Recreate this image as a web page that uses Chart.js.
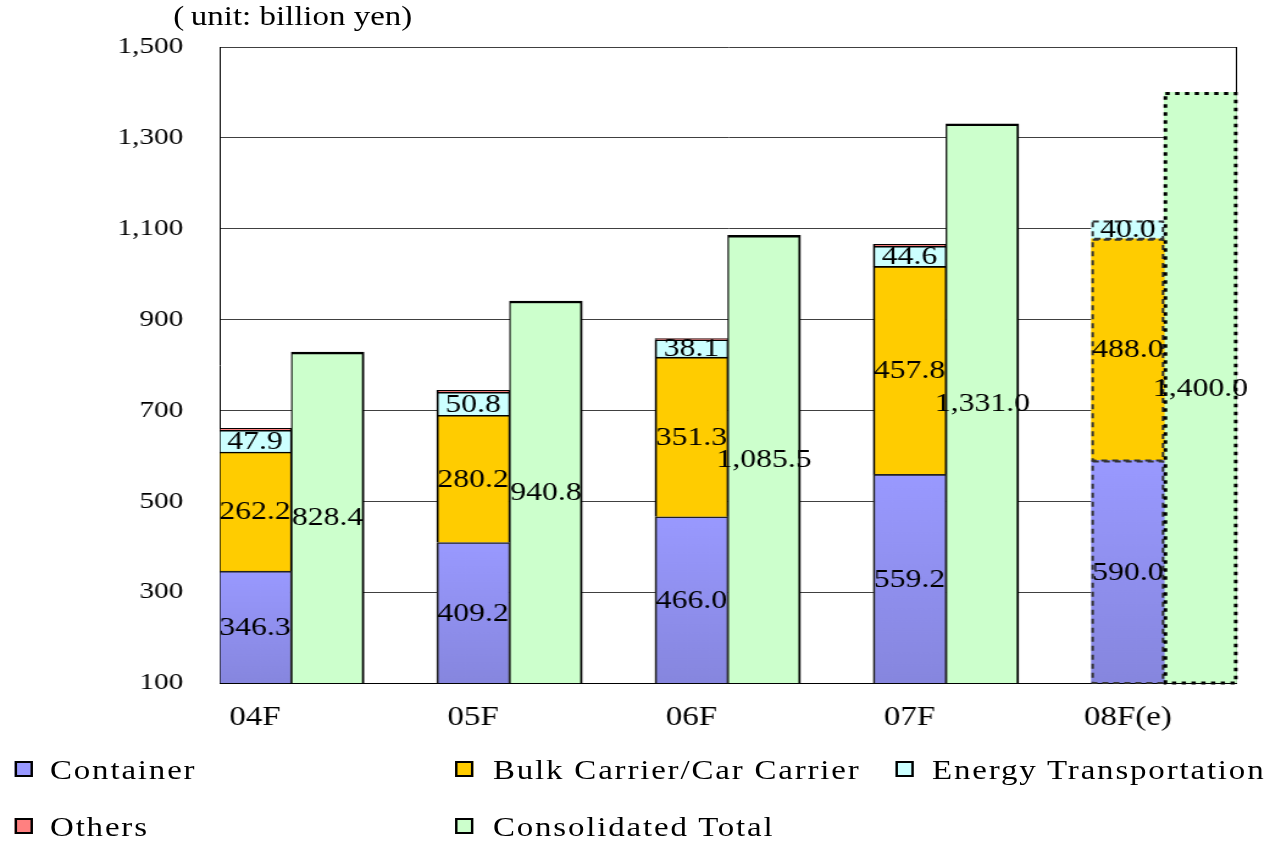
<!DOCTYPE html>
<html>
<head>
<meta charset="utf-8">
<script src="https://cdn.jsdelivr.net/npm/chart.js@4.4.1/dist/chart.umd.min.js"></script>
<style>
  html, body { margin: 0; padding: 0; background: #fff; }
  body { width: 1276px; height: 843px; overflow: hidden; position: relative; }
  /* the original export is stretched sideways, so the whole stage is too */
  #stage { position: absolute; left: 0; top: 0; width: 1046px; height: 843px;
           transform: scaleX(1.22); transform-origin: 0 0;
           font-family: "Liberation Serif", "Times New Roman", serif; color: #000; }
  #chart { position: absolute; left: 0; top: 0; width: 1046px; height: 745px; }
  #unit { position: absolute; left: 142px; top: 0; font-size: 27px; line-height: 32px; white-space: nowrap; }
  .legend-text { position: absolute; font-size: 27px; line-height: 30px; letter-spacing: 1.5px; white-space: nowrap; }
  .legend-box { position: absolute; width: 15px; height: 16px; border: 2px solid #000; box-sizing: border-box; }
</style>
</head>
<body>
<div id="stage">
  <div id="unit">(&#8201;unit: billion yen)</div>
  <canvas id="chart" width="1046" height="745"></canvas>
  <div id="legend"></div>
</div>
<script>
document.addEventListener('DOMContentLoaded', function() {
    const categories = ['04F', '05F', '06F', '07F', '08F(e)'];
    const container = [346.3, 409.2, 466.0, 559.2, 590.0];
    const bulk = [262.2, 280.2, 351.3, 457.8, 488.0];
    const energy = [47.9, 50.8, 38.1, 44.6, 40.0];
    const others = [4, 4, 3, 4, null];
    const consolidated = [828.4, 940.8, 1085.5, 1331.0, 1400.0];
    const estimate = [false, false, false, false, true];
    const yTicks = [100, 300, 500, 700, 900, 1100, 1300, 1500];

    const serif = '"Liberation Serif", "Times New Roman", serif';
    Chart.defaults.font.family = serif;
    Chart.defaults.color = '#000';

    const toPoints = arr => arr.map((v, i) => ({ x: i, y: v }));
    const fmt = v => v.toLocaleString('en-US', { minimumFractionDigits: 1, maximumFractionDigits: 1 });

    // container bars fade a little from top to bottom
    function containerFill(ctx) {
        const chart = ctx.chart;
        const area = chart.chartArea;
        if (!area || !ctx.raw || ctx.raw.y == null) return '#9999ff';
        const top = Math.max(chart.scales.y.getPixelForValue(ctx.raw.y), area.top);
        const g = chart.ctx.createLinearGradient(0, top, 0, area.bottom);
        g.addColorStop(0, '#9999ff');
        g.addColorStop(1, '#8686de');
        return g;
    }

    const stackBorder = ctx => estimate[ctx.dataIndex] ? 0 : { top: 1.6, right: 1.2, bottom: 0, left: 1.8 };
    const totalBorder = ctx => estimate[ctx.dataIndex] ? 0 : { top: 2.5, right: 2, bottom: 0, left: 1.3 };

    const datasets = [
        { label: '', data: toPoints(categories.map(() => null)), stack: 'gap', legend: false },
        { label: 'Container', data: toPoints(container), stack: 'seg', backgroundColor: containerFill,
          legendColor: '#9999ff', borderColor: '#222', borderWidth: stackBorder, showValues: true },
        { label: 'Bulk Carrier/Car Carrier', data: toPoints(bulk), stack: 'seg', backgroundColor: '#ffcc00',
          borderColor: '#000', borderWidth: stackBorder, showValues: true },
        { label: 'Energy Transportation', data: toPoints(energy), stack: 'seg', backgroundColor: '#ccffff',
          borderColor: '#000', borderWidth: stackBorder, showValues: true },
        { label: 'Others', data: toPoints(others), stack: 'seg', backgroundColor: '#ff8080',
          borderColor: '#000', borderWidth: stackBorder },
        { label: 'Consolidated Total', data: toPoints(consolidated), stack: 'total', backgroundColor: '#ccffcc',
          borderColor: '#000', borderWidth: totalBorder, showValues: true }
    ];

    function visibleBar(bar, area) {
        const p = bar.getProps(['x', 'y', 'base', 'width'], true);
        return {
            left: p.x - p.width / 2,
            right: p.x + p.width / 2,
            top: Math.max(Math.min(p.y, p.base), area.top),
            bottom: Math.min(Math.max(p.y, p.base), area.bottom),
            x: p.x
        };
    }

    // right edge of the plot frame, behind the bars
    const frame = {
        id: 'frame',
        beforeDatasetsDraw(chart) {
            const { ctx, chartArea } = chart;
            ctx.save();
            ctx.strokeStyle = '#000';
            ctx.lineWidth = 1;
            ctx.beginPath();
            ctx.moveTo(Math.round(chartArea.right) - 0.5, chartArea.top);
            ctx.lineTo(Math.round(chartArea.right) - 0.5, chartArea.bottom);
            ctx.stroke();
            ctx.restore();
        }
    };

    // forecast year gets dashed outlines (bar elements can't dash)
    const estimateOutline = {
        id: 'estimateOutline',
        afterDatasetsDraw(chart) {
            const { ctx, chartArea } = chart;
            ctx.save();
            chart.data.datasets.forEach((ds, di) => {
                if (ds.stack === 'gap') return;
                chart.getDatasetMeta(di).data.forEach((bar, i) => {
                    if (!estimate[i] || ds.data[i].y == null) return;
                    const b = visibleBar(bar, chartArea);
                    if (ds.stack === 'total') {
                        ctx.strokeStyle = '#000';
                        ctx.lineWidth = 3;
                        ctx.setLineDash([3.5, 4.5]);
                    } else {
                        ctx.strokeStyle = '#333';
                        ctx.lineWidth = 2;
                        ctx.setLineDash([5, 4]);
                    }
                    ctx.strokeRect(b.left + 1, b.top + 1, b.right - b.left - 2, b.bottom - b.top - 1);
                });
            });
            ctx.restore();
        }
    };

    // numbers sit in the middle of the visible part of each bar
    const valueLabels = {
        id: 'valueLabels',
        afterDatasetsDraw(chart) {
            const { ctx, chartArea } = chart;
            ctx.save();
            ctx.font = '26px ' + serif;
            ctx.fillStyle = '#000';
            ctx.textAlign = 'center';
            ctx.textBaseline = 'middle';
            chart.data.datasets.forEach((ds, di) => {
                if (!ds.showValues) return;
                chart.getDatasetMeta(di).data.forEach((bar, i) => {
                    const v = ds.data[i].y;
                    if (v == null) return;
                    const b = visibleBar(bar, chartArea);
                    ctx.fillText(fmt(v), b.x, (b.top + b.bottom) / 2 + 1);
                });
            });
            ctx.restore();
        }
    };

    new Chart(document.getElementById('chart'), {
        type: 'bar',
        data: { datasets: datasets },
        options: {
            responsive: false,
            animation: false,
            layout: { padding: { top: 47, right: 32.1, left: 0, bottom: 0 } },
            plugins: { legend: { display: false }, tooltip: { enabled: false } },
            datasets: { bar: { borderSkipped: false, categoryPercentage: 1, barPercentage: 1 } },
            scales: {
                x: {
                    type: 'linear',
                    offset: false,
                    min: -0.16,
                    max: 4.5,
                    afterBuildTicks: s => { s.ticks = categories.map((c, i) => ({ value: i })); },
                    afterFit: s => { s.height = 62; },
                    ticks: { autoSkip: false, maxRotation: 0, padding: 19, font: { size: 27 }, color: '#000',
                             callback: (v, i) => categories[i] },
                    grid: { display: false, drawTicks: false, offset: false },
                    border: { color: '#000', width: 1 }
                },
                y: {
                    min: 100,
                    max: 1500,
                    stacked: true,
                    afterBuildTicks: s => { s.ticks = yTicks.map(v => ({ value: v })); },
                    afterFit: s => { s.width = 180.3; },
                    ticks: { padding: 30, font: { size: 24 }, color: '#000',
                             callback: v => v.toLocaleString('en-US') },
                    grid: { color: '#404040', lineWidth: 1, drawTicks: false },
                    border: { color: '#000', width: 1 }
                }
            }
        },
        plugins: [frame, estimateOutline, valueLabels]
    });

    // legend laid out in the same two rows as the original
    const legendSlots = [
        { box: 11.5, text: 41, row: 771 },
        { box: 373, text: 404, row: 771 },
        { box: 733.6, text: 764, row: 771 },
        { box: 11.5, text: 41, row: 828 },
        { box: 373, text: 404, row: 828 }
    ];
    const legendEl = document.getElementById('legend');
    datasets.filter(ds => ds.legend !== false).forEach((ds, i) => {
        const slot = legendSlots[i];
        const box = document.createElement('div');
        box.className = 'legend-box';
        box.style.left = slot.box + 'px';
        box.style.top = (slot.row - 10) + 'px';
        box.style.background = ds.legendColor || ds.backgroundColor;
        const txt = document.createElement('div');
        txt.className = 'legend-text';
        txt.style.left = slot.text + 'px';
        txt.style.top = (slot.row - 16) + 'px';
        txt.textContent = ds.label;
        legendEl.appendChild(box);
        legendEl.appendChild(txt);
    });
});
</script>
</body>
</html>
